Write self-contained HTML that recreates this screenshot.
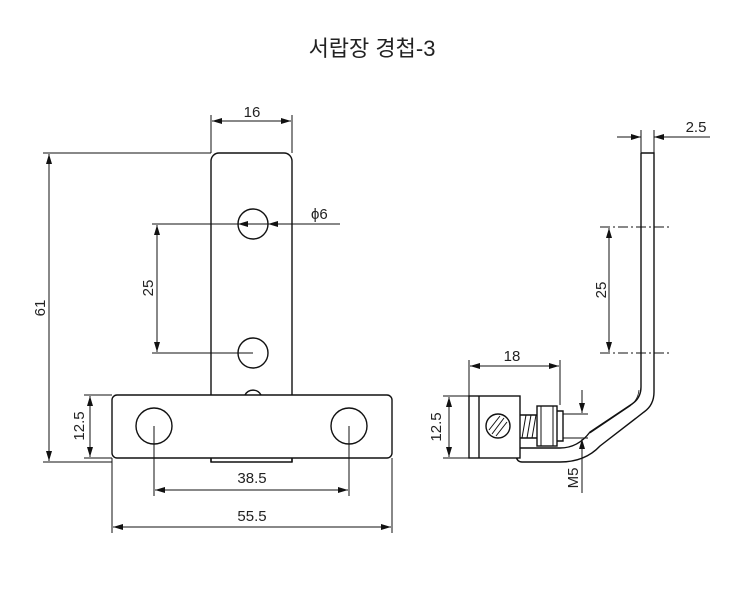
<!DOCTYPE html>
<html><head><meta charset="utf-8"><style>
html,body{margin:0;padding:0;background:#fff;}
svg{display:block;}
text{font-family:"Liberation Sans","Noto Sans CJK KR",sans-serif;fill:#222;font-size:15px;}
</style></head><body>
<svg width="750" height="613" viewBox="0 0 750 613" xmlns="http://www.w3.org/2000/svg">
<defs>
<marker id="a" viewBox="0 0 10 6" refX="10" refY="3" markerWidth="10" markerHeight="6" orient="auto-start-reverse" markerUnits="userSpaceOnUse"><path d="M0,0L10,3L0,6z" fill="#111"/></marker>
</defs>
<text x="372" y="56" text-anchor="middle" style="font-size:22px">서랍장 경첩-3</text>
<g fill="none" stroke="#111" stroke-width="1.4">
<path d="M211,462V161a8,8 0 0 1 8,-8H284a8,8 0 0 1 8,8V462"/>
<path d="M245,395a9,9 0 0 1 16,0"/>
<rect x="112" y="395" width="280" height="63" rx="5" fill="#fff"/>
<path d="M211,458V462H292V458"/>
<circle cx="253" cy="224" r="15"/>
<circle cx="253" cy="353" r="15"/>
<circle cx="154" cy="426" r="18"/>
<circle cx="349" cy="426" r="18"/>
</g>
<g fill="none" stroke="#111" stroke-width="1">
<path d="M211,115V153M292,115V153"/>
<path d="M212,121H291" marker-start="url(#a)" marker-end="url(#a)"/>
<path d="M43,153H211M43,462H112"/>
<path d="M49,154V461" marker-start="url(#a)" marker-end="url(#a)"/>
<path d="M152,224H238M152,353H253"/>
<path d="M157,225V352" marker-start="url(#a)" marker-end="url(#a)"/>
<path d="M238,224H340" />
<path d="M262,224H238" marker-end="url(#a)"/>
<path d="M300,224H268" marker-end="url(#a)"/>
<path d="M84,395H112M84,458H112"/>
<path d="M90,396V457" marker-start="url(#a)" marker-end="url(#a)"/>
<path d="M154,426V496M349,426V496"/>
<path d="M155,490H348" marker-start="url(#a)" marker-end="url(#a)"/>
<path d="M112,458V533M392,458V533"/>
<path d="M113,527H391" marker-start="url(#a)" marker-end="url(#a)"/>
</g>
<text x="252" y="117" text-anchor="middle">16</text>
<text transform="translate(45,308) rotate(-90)" text-anchor="middle">61</text>
<text transform="translate(153,288) rotate(-90)" text-anchor="middle">25</text>
<text x="311" y="219">ϕ6</text>
<text transform="translate(84,426) rotate(-90)" text-anchor="middle">12.5</text>
<text x="252" y="483" text-anchor="middle">38.5</text>
<text x="252" y="521" text-anchor="middle">55.5</text>
<g fill="none" stroke="#111" stroke-width="1.4">
<path d="M641,153H654V392Q654,405 644,412L600,446Q585,462 560,462H522Q517,462 516,456"/>
<path d="M641,153V387Q641,398 632,404L590,432Q578,448 560,448H520"/>
<path d="M639,390Q638,400 630,406L590,433" stroke-width="0.8"/>
<rect x="469" y="396" width="51" height="62" fill="#fff"/>
<path d="M479,396V458"/>
<circle cx="498" cy="426" r="12"/>
<path d="M489,430L500,416M492,434L504,418M496,436L507,422" stroke-width="1"/>
<path d="M520,415H537M520,438H537"/>
<path d="M522,438L526,415M527,438L531,415M532,438L536,415" stroke-width="1"/>
<rect x="537" y="406" width="20" height="40" fill="#fff"/>
<path d="M541,406V446M553,406V446" stroke-width="1"/>
<path d="M557,411H563V441H557"/>
</g>
<g fill="none" stroke="#111" stroke-width="1">
<path d="M641,130V153M654,130V153"/>
<path d="M617,137H641" marker-end="url(#a)"/>
<path d="M710,137H654" marker-end="url(#a)"/>
<path d="M600,227H670M600,353H670" stroke-dasharray="10,3,2,3"/>
<path d="M609,228V352" marker-start="url(#a)" marker-end="url(#a)"/>
<path d="M469,360V396M560,360V405"/>
<path d="M470,366H559" marker-start="url(#a)" marker-end="url(#a)"/>
<path d="M443,396H469M443,458H469"/>
<path d="M449,397V457" marker-start="url(#a)" marker-end="url(#a)"/>
<path d="M563,414H588M563,438H588"/>
<path d="M582,390V413" marker-end="url(#a)"/>
<path d="M582,493V439" marker-end="url(#a)"/>
</g>
<text x="696" y="132" text-anchor="middle">2.5</text>
<text transform="translate(606,290) rotate(-90)" text-anchor="middle">25</text>
<text x="512" y="361" text-anchor="middle">18</text>
<text transform="translate(441,427) rotate(-90)" text-anchor="middle">12.5</text>
<text transform="translate(578,478) rotate(-90)" text-anchor="middle">M5</text>
</svg>
</body></html>
